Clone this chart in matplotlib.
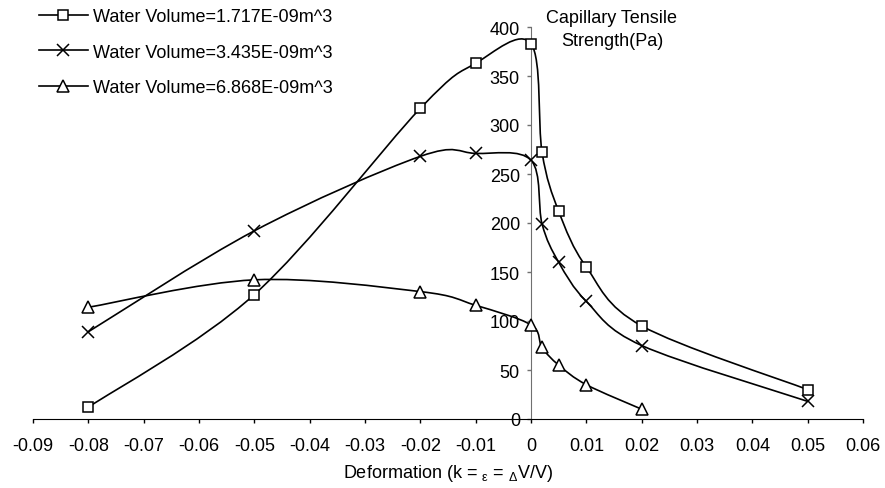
import matplotlib
matplotlib.use("Agg")
import matplotlib.pyplot as plt
from matplotlib.path import Path
from matplotlib.patches import PathPatch
from matplotlib.lines import Line2D
import numpy as np

plt.rcParams['font.family'] = ['Liberation Sans', 'DejaVu Sans']
plt.rcParams['mathtext.fontset'] = 'custom'
plt.rcParams['mathtext.rm'] = 'Liberation Sans'
plt.rcParams['mathtext.it'] = 'Liberation Sans:italic'

# deformation values (x) for each series
x_v1 = [-0.08, -0.05, -0.02, -0.01, 0.0, 0.002, 0.005, 0.01, 0.02, 0.05]
y_v1 = [12, 127, 317, 363, 383, 272, 212, 155, 95, 30]

x_v2 = [-0.08, -0.05, -0.02, -0.01, 0.0, 0.002, 0.005, 0.01, 0.02, 0.05]
y_v2 = [89, 192, 268, 271, 264, 199, 160, 120, 75, 18]

x_v3 = [-0.08, -0.05, -0.02, -0.01, 0.0, 0.002, 0.005, 0.01, 0.02]
y_v3 = [114, 142, 130, 116, 96, 73, 55, 35, 10]

labels = ["Water Volume=1.717E-09m^3",
          "Water Volume=3.435E-09m^3",
          "Water Volume=6.868E-09m^3"]
markers = ['s', 'x', '^']

x_ticks = [-0.09, -0.08, -0.07, -0.06, -0.05, -0.04, -0.03, -0.02, -0.01,
           0, 0.01, 0.02, 0.03, 0.04, 0.05, 0.06]
x_ticklabels = ["-0.09", "-0.08", "-0.07", "-0.06", "-0.05", "-0.04", "-0.03",
                "-0.02", "-0.01", "0", "0.01", "0.02", "0.03", "0.04", "0.05", "0.06"]
y_ticks = [0, 50, 100, 150, 200, 250, 300, 350, 400]

FS = 13
LW = 1.2


def smooth_path(xs, ys):
    # excel-like smoothed line: cubic bezier through the points
    p = np.column_stack([xs, ys]).astype(float)
    n = len(p)
    verts = [p[0]]
    codes = [Path.MOVETO]
    for i in range(n - 1):
        prev = p[i - 1] if i > 0 else p[i]
        nxt = p[i + 2] if i + 2 < n else p[i + 1]
        c1 = p[i] + (p[i + 1] - prev) / 6.0
        c2 = p[i + 1] - (nxt - p[i]) / 6.0
        verts += [c1, c2, p[i + 1]]
        codes += [Path.CURVE4] * 3
    return Path(verts, codes)


fig = plt.figure(figsize=(8.85, 4.89), dpi=100)
ax = fig.add_axes([33 / 885, 69 / 489, 830 / 885, 392 / 489])

series = [(x_v1, y_v1), (x_v2, y_v2), (x_v3, y_v3)]
for (xs, ys), m in zip(series, markers):
    ax.add_patch(PathPatch(smooth_path(xs, ys), facecolor='none',
                           edgecolor='black', lw=LW, transform=ax.transData))
    ms = 6.5 if m == 's' else 8
    ax.plot(xs, ys, linestyle='none', marker=m, ms=ms, mfc='white',
            mec='black', mew=1.1, zorder=3)

ax.set_xlim(-0.09, 0.06)
ax.set_ylim(0, 400)

ax.spines['left'].set_position(('data', 0))
ax.spines['top'].set_visible(False)
ax.spines['right'].set_visible(False)
ax.spines['left'].set_color('#707070')
ax.spines['bottom'].set_color('black')

ax.set_xticks(x_ticks)
ax.set_xticklabels(x_ticklabels, fontsize=FS)
ax.set_yticks(y_ticks)
ax.set_yticklabels([str(v) for v in y_ticks], fontsize=FS)
ax.tick_params(axis='x', direction='out', length=3, width=1, pad=10)
ax.tick_params(axis='y', direction='out', length=3, width=1, pad=5,
               color='#707070')

fig.text(448 / 885, 1 - 478 / 489,
         r'Deformation (k = ${}_{\mathrm{ε}}$ = ${}_{\mathrm{Δ}}$V/V)',
         fontsize=FS, ha='center', va='baseline')

fig.text(612 / 885, 1 - 30 / 489, "Capillary Tensile\nStrength(Pa)",
         fontsize=FS, ha='center', va='center', linespacing=1.45)

handles = [Line2D([], [], color='black', lw=LW, marker=m,
                  ms=(6.5 if m == 's' else 8), mfc='white', mec='black',
                  mew=1.1) for m in markers]
fig.legend(handles, labels, loc='upper left',
           bbox_to_anchor=(39 / 885, 1 - 9 / 489), frameon=False,
           fontsize=FS, handlelength=2.7, handletextpad=0.3,
           labelspacing=1.03, borderpad=0, borderaxespad=0)

fig.savefig('out.png', dpi=100)
